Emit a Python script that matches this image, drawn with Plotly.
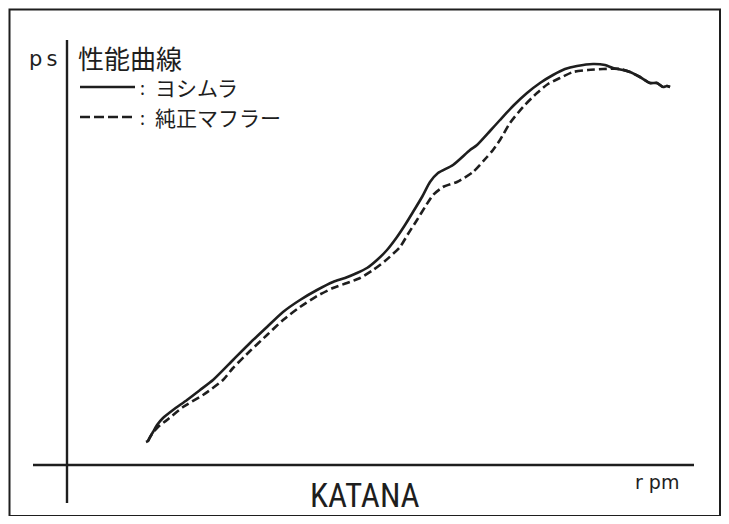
import plotly.graph_objects as go

# Data (x: rpm axis units from origin, y: ps axis units from origin)
yoshimura_rpm = [79, 81, 83, 86, 90, 96, 106, 120, 133, 146, 166, 183, 200, 216, 233, 250, 266, 278, 290, 300,
                 310, 320, 330, 338, 346, 355, 363, 371, 386, 403, 410, 423, 433, 446, 460, 473, 486, 498, 510,
                 526, 538, 546, 556, 563, 573, 583, 590, 596, 600, 603]
yoshimura_ps = [23, 24, 28, 33, 40, 47, 55, 65, 75, 85, 105, 122, 138, 153, 165, 175, 183, 187, 192, 197,
                205, 215, 228, 240, 253, 268, 283, 292, 300, 315, 320, 334, 345, 359, 372, 382, 390, 396, 399,
                401, 400, 397, 395, 393, 388, 382, 382, 378, 379, 378]
junsei_rpm = [81, 85, 91, 100, 116, 136, 156, 166, 183, 200, 216, 233, 250, 266, 280, 293, 306, 318, 333, 341,
              350, 358, 366, 376, 390, 406, 420, 426, 433, 443, 456, 470, 481, 493, 506, 521, 536, 553, 563,
              573, 583, 590, 596, 600, 603]
junsei_ps = [24, 31, 38, 45, 58, 70, 85, 97, 114, 130, 145, 158, 169, 177, 182, 187, 195, 204, 218, 231,
             245, 258, 270, 278, 283, 293, 308, 315, 325, 342, 358, 372, 381, 387, 393, 395, 396, 396, 393,
             388, 382, 382, 378, 379, 378]

title_text = "性能曲線"
legend_names = ["ヨシムラ", "純正マフラー"]
model_name = "KATANA"
x_label = "r pm"
y_label = "p\u2009s"

# The page body has an 8px margin; the figure occupies page pixels 8..721 x 8..516.
PAD = 8
W, H = 713, 508
OX, OY = 67 - PAD, 465 - PAD  # axis origin in figure pixels


def px(x):
    return (x - PAD) / W


def py(y):
    return 1 - (y - PAD) / H


ink = "#1e1e1e"
fig = go.Figure()
fig.add_trace(go.Scatter(x=yoshimura_rpm, y=yoshimura_ps, mode="lines",
                         line=dict(color=ink, width=2.6, shape="spline", smoothing=0.6),
                         name=legend_names[0], showlegend=False))
fig.add_trace(go.Scatter(x=junsei_rpm, y=junsei_ps, mode="lines",
                         line=dict(color=ink, width=2.6, dash="8px,4px", shape="spline", smoothing=0.6),
                         name=legend_names[1], showlegend=False))

shapes = [
    # outer border
    dict(type="rect", xref="paper", yref="paper", x0=px(9.5), x1=px(720), y0=py(516), y1=py(9.5),
         line=dict(color=ink, width=2)),
    # axes
    dict(type="line", xref="x", yref="y", x0=0, x1=0, y0=465 - 503, y1=465 - 40,
         line=dict(color=ink, width=2.4)),
    dict(type="line", xref="x", yref="y", x0=33 - 67, x1=694 - 67, y0=0, y1=0,
         line=dict(color=ink, width=2.4)),
    # legend samples
    dict(type="line", xref="paper", yref="paper", x0=px(80), x1=px(135), y0=py(87), y1=py(87),
         line=dict(color=ink, width=2.5)),
    dict(type="line", xref="paper", yref="paper", x0=px(80), x1=px(132), y0=py(117), y1=py(117),
         line=dict(color=ink, width=2.5, dash="10px,4px")),
]

jp = "Noto Sans CJK JP"
narrow = "Roboto Condensed, Liberation Sans Narrow, DejaVu Sans Condensed, Roboto"
annotations = [
    dict(text=y_label, x=px(27), y=py(59), xref="paper", yref="paper", xanchor="left", yanchor="middle",
         showarrow=False, font=dict(family="DejaVu Sans", size=21, color=ink)),
    dict(text=title_text, x=px(76), y=py(57), xref="paper", yref="paper", xanchor="left", yanchor="middle",
         showarrow=False, font=dict(family=jp, size=26, color=ink)),
]
for name, yy in zip(legend_names, [87, 117]):
    annotations.append(dict(text=":", x=px(142), y=py(yy), xref="paper", yref="paper", xanchor="center",
                            yanchor="middle", showarrow=False, font=dict(family=jp, size=18, color=ink)))
    annotations.append(dict(text=name, x=px(153), y=py(yy), xref="paper", yref="paper", xanchor="left",
                            yanchor="middle", showarrow=False, font=dict(family=jp, size=21, color=ink)))
annotations += [
    dict(text=model_name, x=px(365), y=py(495), xref="paper", yref="paper", xanchor="center",
         yanchor="middle", showarrow=False,
         font=dict(family=narrow, size=33, color=ink)),
    dict(text=x_label, x=px(657), y=py(482), xref="paper", yref="paper", xanchor="center",
         yanchor="middle", showarrow=False, font=dict(family="DejaVu Sans", size=19, color=ink)),
]

fig.update_layout(
    width=W, height=H, margin=dict(l=0, r=0, t=0, b=0),
    paper_bgcolor="white", plot_bgcolor="white",
    xaxis=dict(range=[-OX, W - OX], visible=False, fixedrange=True),
    yaxis=dict(range=[OY - H, OY], visible=False, fixedrange=True),
    shapes=shapes, annotations=annotations, showlegend=False,
)
fig.write_html("out.html")
